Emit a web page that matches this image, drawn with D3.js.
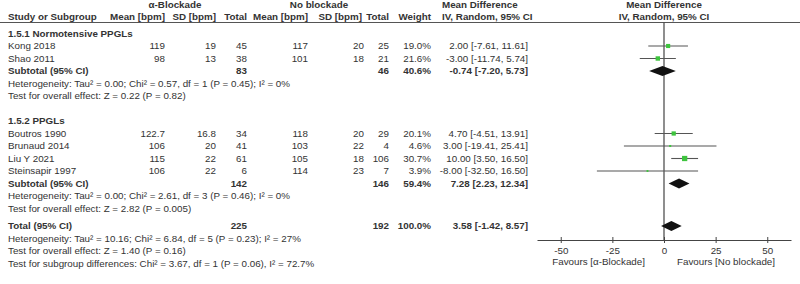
<!DOCTYPE html>
<html>
<head>
<meta charset="utf-8">
<script src="https://cdn.jsdelivr.net/npm/d3@7"></script>
<style>
  body { margin: 0; background: #fff; }
  text { font-family: "Liberation Sans", Arial, sans-serif; font-size: 9.8px; fill: #333; }
  .b { font-weight: bold; }
</style>
</head>
<body>
<div id="chart"></div>
<script>
// study level data
var studies = ["Kong 2018", "Shao 2011", "Boutros 1990", "Brunaud 2014", "Liu Y 2021", "Steinsapir 1997"];
var group = [0, 0, 1, 1, 1, 1];
var meanA = [119, 98, 122.7, 106, 115, 106];
var sdA = [19, 13, 16.8, 20, 22, 22];
var nA = [45, 38, 34, 41, 61, 6];
var meanB = [117, 101, 118, 103, 105, 114];
var sdB = [20, 18, 20, 22, 18, 23];
var nB = [25, 21, 29, 4, 106, 7];
var weight = [19.0, 21.6, 20.1, 4.6, 30.7, 3.9];
var md = [2.00, -3.00, 4.70, 3.00, 10.00, -8.00];
var lo = [-7.61, -11.74, -4.51, -19.41, 3.50, -32.50];
var hi = [11.61, 5.74, 13.91, 25.41, 16.50, 16.50];

// subgroups
var groupNames = ["1.5.1 Normotensive PPGLs", "1.5.2 PPGLs"];
var groupNA = [83, 142];
var groupNB = [46, 146];
var groupWeight = [40.6, 59.4];
var groupMd = [-0.74, 7.28];
var groupLo = [-7.20, 2.23];
var groupHi = [5.73, 12.34];
var groupHet = ["Heterogeneity: Tau\u00b2 = 0.00; Chi\u00b2 = 0.57, df = 1 (P = 0.45); I\u00b2 = 0%",
                "Heterogeneity: Tau\u00b2 = 0.00; Chi\u00b2 = 2.61, df = 3 (P = 0.46); I\u00b2 = 0%"];
var groupTest = ["Test for overall effect: Z = 0.22 (P = 0.82)",
                 "Test for overall effect: Z = 2.82 (P = 0.005)"];

// overall
var totalNA = 225, totalNB = 192, totalWeight = 100.0;
var totalMd = 3.58, totalLo = -1.42, totalHi = 8.57;
var totalNotes = ["Heterogeneity: Tau\u00b2 = 10.16; Chi\u00b2 = 6.84, df = 5 (P = 0.23); I\u00b2 = 27%",
                  "Test for overall effect: Z = 1.40 (P = 0.16)",
                  "Test for subgroup differences: Chi\u00b2 = 3.67, df = 1 (P = 0.06), I\u00b2 = 72.7%"];

var axisTicks = [-50, -25, 0, 25, 50];
var favourLabels = ["Favours [\u03b1-Blockade]", "Favours [No blockade]"];

var width = 800, height = 284;

var svg = d3.select("#chart").append("svg")
    .attr("width", width)
    .attr("height", height);

var x = d3.scaleLinear().domain([-61.5, 61.5]).range([537, 791]);
// plain hyphen for negatives, like the original
var f2 = function(v) { return v.toFixed(2); };
var f1 = function(v) { return v.toFixed(1); };
var ciText = function(m, l, h) { return f2(m) + " [" + f2(l) + ", " + f2(h) + "]"; };

// row index -> y centre
var rowY = d3.scaleLinear().domain([0, 1]).range([33.5, 46]);

// columns (right edges unless said)
var col = { study: 8, meanA: 165, sdA: 216, nA: 247, meanB: 308, sdB: 364, nB: 389, w: 431, ci: 528, ciHead: 442 };

function txt(xx, yy, s, anchor, bold) {
    return svg.append("text")
        .attr("x", xx).attr("y", yy).attr("dy", "0.35em")
        .attr("text-anchor", anchor || "start")
        .attr("class", bold ? "b" : null)
        .text(s);
}

function diamond(m, l, h, y) {
    svg.append("path")
        .attr("d", "M" + x(l) + "," + y + "L" + x(m) + "," + (y - 5) +
                   "L" + x(h) + "," + y + "L" + x(m) + "," + (y + 5) + "Z")
        .attr("fill", "#111");
}

// headers
txt(175, 4.5, "\u03b1-Blockade", "middle", true);
txt(319, 4.5, "No blockade", "middle", true);
txt(col.ciHead, 4.5, "Mean Difference", "start", true);
txt(x(0), 4.5, "Mean Difference", "middle", true);
txt(col.study, 16.8, "Study or Subgroup", "start", true);
txt(col.meanA, 16.8, "Mean [bpm]", "end", true);
txt(col.sdA, 16.8, "SD [bpm]", "end", true);
txt(col.nA, 16.8, "Total", "end", true);
txt(col.meanB, 16.8, "Mean [bpm]", "end", true);
txt(362, 16.8, "SD [bpm]", "end", true);
txt(col.nB, 16.8, "Total", "end", true);
txt(col.w, 16.8, "Weight", "end", true);
txt(col.ciHead, 16.8, "IV, Random, 95% CI", "start", true);
txt(x(0), 16.8, "IV, Random, 95% CI", "middle", true);

svg.append("line")
    .attr("x1", 0).attr("x2", width)
    .attr("y1", 22.5).attr("y2", 22.5)
    .attr("stroke", "#555").attr("stroke-width", 1);

var axisY = 240;

// zero line
svg.append("line")
    .attr("x1", x(0)).attr("x2", x(0))
    .attr("y1", 22.5).attr("y2", axisY)
    .attr("stroke", "#444").attr("stroke-width", 1.2);

var row = 0;
groupNames.forEach(function(g, gi) {
    txt(col.study, rowY(row), g, "start", true);
    row++;
    studies.forEach(function(s, i) {
        if (group[i] !== gi) return;
        var y = rowY(row);
        txt(col.study, y, s);
        txt(col.meanA, y, String(meanA[i]), "end");
        txt(col.sdA, y, String(sdA[i]), "end");
        txt(col.nA, y, String(nA[i]), "end");
        txt(col.meanB, y, String(meanB[i]), "end");
        txt(col.sdB, y, String(sdB[i]), "end");
        txt(col.nB, y, String(nB[i]), "end");
        txt(col.w, y, f1(weight[i]) + "%", "end");
        txt(col.ci, y, ciText(md[i], lo[i], hi[i]), "end");

        svg.append("line")
            .attr("x1", x(lo[i])).attr("x2", x(hi[i]))
            .attr("y1", y).attr("y2", y)
            .attr("stroke", "#555").attr("stroke-width", 1.1);
        var side = 0.95 * Math.sqrt(weight[i]);
        svg.append("rect")
            .attr("x", x(md[i]) - side / 2).attr("y", y - side / 2)
            .attr("width", side).attr("height", side)
            .attr("fill", "#3ec43e");
        row++;
    });
    var ys = rowY(row);
    txt(col.study, ys, "Subtotal (95% CI)", "start", true);
    txt(col.nA, ys, String(groupNA[gi]), "end", true);
    txt(col.nB, ys, String(groupNB[gi]), "end", true);
    txt(col.w, ys, f1(groupWeight[gi]) + "%", "end", true);
    txt(col.ci, ys, ciText(groupMd[gi], groupLo[gi], groupHi[gi]), "end", true);
    diamond(groupMd[gi], groupLo[gi], groupHi[gi], ys);
    row++;
    txt(col.study, rowY(row), groupHet[gi]);
    row++;
    txt(col.study, rowY(row), groupTest[gi]);
    row += 2;
});

// overall
row -= 0.6;
var yt = rowY(row);
txt(col.study, yt, "Total (95% CI)", "start", true);
txt(col.nA, yt, String(totalNA), "end", true);
txt(col.nB, yt, String(totalNB), "end", true);
txt(col.w, yt, f1(totalWeight) + "%", "end", true);
txt(col.ci, yt, ciText(totalMd, totalLo, totalHi), "end", true);
diamond(totalMd, totalLo, totalHi, yt);
totalNotes.forEach(function(n, i) {
    txt(col.study, rowY(row + 1 + i), n);
});

// axis
var axis = svg.append("g")
    .attr("transform", "translate(0," + axisY + ")")
    .call(d3.axisBottom(x).tickValues(axisTicks)
        .tickFormat(function(d) { return String(d); })
        .tickSizeOuter(0).tickSizeInner(3).tickPadding(4));
axis.select(".domain").attr("stroke", "#444");
axis.selectAll(".tick line").attr("y1", -3).attr("y2", 3).attr("stroke", "#444");
axis.selectAll(".tick text")
    .style("font-family", "'Liberation Sans', Arial, sans-serif")
    .style("font-size", "9.8px").attr("fill", "#333");

txt(x(0) - 19, axisY + 22, favourLabels[0], "end");
txt(x(0) + 13, axisY + 22, favourLabels[1], "start");
</script>
</body>
</html>
